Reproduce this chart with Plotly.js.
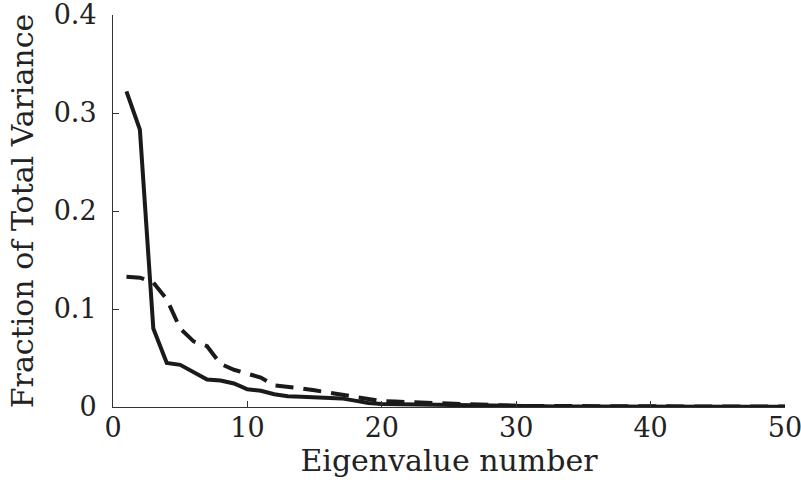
<!DOCTYPE html>
<html>
<head>
<meta charset="utf-8">
<script src="https://cdn.plot.ly/plotly-3.0.1.min.js"></script>
<style>html,body{margin:0;padding:0;background:#fff;}#chart{width:801px;height:483px;}</style>
</head>
<body>
<div id="chart"></div>
<script>
const eigenNumber = [];
for (let i = 1; i <= 50; i++) eigenNumber.push(i);
const solidValues = [0.322, 0.283, 0.080, 0.045, 0.043, 0.036, 0.028, 0.027, 0.024, 0.018,
  0.0165, 0.013, 0.011, 0.0105, 0.010, 0.0095, 0.0088, 0.0065, 0.004, 0.003,
  0.0028, 0.0025, 0.002, 0.0016, 0.0013, 0.0011, 0.001, 0.0009, 0.0008, 0.0007,
  0.0007, 0.0006, 0.0006, 0.0006, 0.0005, 0.0005, 0.0005, 0.0005, 0.0004, 0.0004,
  0.0004, 0.0004, 0.0004, 0.0003, 0.0003, 0.0003, 0.0003, 0.0003, 0.0003, 0.0003];
const dashedValues = [0.133, 0.132, 0.127, 0.110, 0.080, 0.067, 0.062, 0.044, 0.038, 0.034,
  0.030, 0.022, 0.021, 0.019, 0.017, 0.015, 0.013, 0.011, 0.008, 0.006,
  0.0055, 0.005, 0.0042, 0.0035, 0.003, 0.0025, 0.002, 0.0018, 0.0015, 0.0012,
  0.0011, 0.001, 0.0009, 0.0008, 0.0008, 0.0007, 0.0007, 0.0006, 0.0006, 0.0006,
  0.0005, 0.0005, 0.0005, 0.0005, 0.0004, 0.0004, 0.0004, 0.0004, 0.0004, 0.0004];
const xTicks = [0, 10, 20, 30, 40, 50];
const yTicks = [0, 0.1, 0.2, 0.3, 0.4];
const yTickLabels = ['0', '0.1', '0.2', '0.3', '0.4'];

const fontFamily = 'DejaVu Serif, serif';
const traces = [
  {x: eigenNumber, y: dashedValues, type: 'scatter', mode: 'lines',
   line: {color: '#1a1a1a', width: 4, dash: '18px,10px'}, hoverinfo: 'skip'},
  {x: eigenNumber, y: solidValues, type: 'scatter', mode: 'lines',
   line: {color: '#1a1a1a', width: 4}, hoverinfo: 'skip'}
];
const layout = {
  width: 801, height: 483,
  margin: {l: 113, r: 16, t: 15, b: 76},
  paper_bgcolor: '#fff', plot_bgcolor: '#fff',
  showlegend: false,
  font: {family: fontFamily, color: '#222', size: 28},
  xaxis: {
    range: [0, 50], tickvals: xTicks, ticktext: xTicks.map(String),
    ticks: 'inside', ticklen: 6, tickcolor: '#333', tickwidth: 1,
    showline: true, linecolor: '#333', linewidth: 1,
    showgrid: false, zeroline: false,
    ticklabeloverflow: 'allow',
    ticklabelstandoff: -3,
    tickfont: {size: 27, family: fontFamily},
    title: {text: 'Eigenvalue number', font: {size: 30, family: fontFamily}, standoff: 0}
  },
  yaxis: {
    range: [0, 0.40001], tickvals: yTicks, ticktext: yTickLabels,
    ticks: 'inside', ticklen: 6, tickcolor: '#333', tickwidth: 1,
    showline: true, linecolor: '#333', linewidth: 1,
    showgrid: false, zeroline: false,
    ticklabeloverflow: 'allow',
    ticklabelstandoff: 10,
    tickfont: {size: 27, family: fontFamily},
    title: {text: 'Fraction of Total Variance', font: {size: 30, family: fontFamily}, standoff: 11}
  }
};
Plotly.newPlot('chart', traces, layout, {staticPlot: true, displayModeBar: false});
</script>
</body>
</html>
